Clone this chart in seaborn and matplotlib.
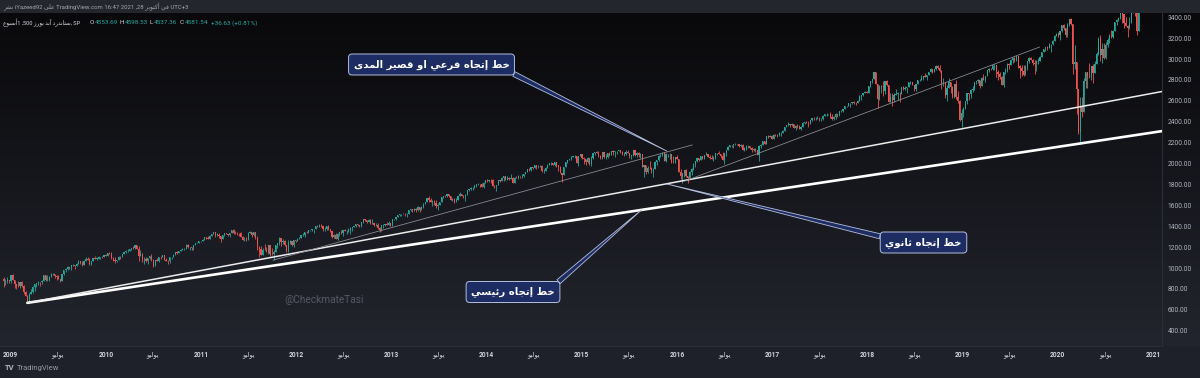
import numpy as np
import pandas as pd
import matplotlib
matplotlib.use('Agg')
import matplotlib.pyplot as plt
import matplotlib.colors as mcolors
import seaborn as sns

# weekly S&P 500 candles (friday closes), first week 2008-12-05
first_open = 896
close = [
    876, 879, 888, 873,  # 2008
    932, 890, 850, 832, 826, 869, 827, 770, 735, 683, 756, 769, 816, 843, 857, 870, 866, 877, 929, 882,
    887, 919, 940, 946, 921, 918, 896, 879, 940, 979, 987, 1010, 1005, 1026, 1029, 1016, 1042, 1068, 1044, 1025,
    1071, 1087, 1080, 1036, 1069, 1093, 1091, 1091, 1106, 1106, 1102, 1126,  # 2009
    1115, 1145, 1136, 1092, 1074, 1066, 1075, 1109, 1105, 1139, 1150, 1160, 1167, 1179, 1194, 1192, 1217, 1187,
    1111, 1136, 1088, 1089, 1065, 1092, 1117, 1076, 1023, 1078, 1065, 1103, 1102, 1122, 1079, 1071, 1065, 1105,
    1110, 1126, 1149, 1147, 1166, 1176, 1183, 1183, 1225, 1199, 1199, 1189, 1225, 1240, 1244, 1257, 1258,  # 2010
    1272, 1293, 1283, 1276, 1311, 1329, 1343, 1320, 1321, 1304, 1279, 1314, 1332, 1328, 1320, 1337, 1364, 1340,
    1338, 1333, 1331, 1300, 1271, 1271, 1268, 1339, 1344, 1316, 1345, 1292, 1199, 1179, 1124, 1177, 1174, 1154,
    1216, 1136, 1131, 1155, 1224, 1238, 1285, 1253, 1263, 1216, 1159, 1244, 1255, 1219, 1265, 1258,  # 2011
    1278, 1289, 1315, 1316, 1345, 1343, 1361, 1366, 1370, 1371, 1404, 1397, 1408, 1398, 1370, 1378, 1403, 1370,
    1353, 1295, 1318, 1278, 1325, 1343, 1335, 1362, 1355, 1357, 1362, 1386, 1391, 1405, 1418, 1411, 1407, 1438,
    1466, 1460, 1441, 1461, 1429, 1433, 1412, 1414, 1380, 1360, 1409, 1416, 1418, 1414, 1430, 1402,  # 2012
    1466, 1472, 1486, 1503, 1513, 1518, 1520, 1516, 1518, 1551, 1561, 1556, 1569, 1553, 1588, 1555, 1582, 1614,
    1634, 1667, 1650, 1631, 1643, 1627, 1593, 1606, 1632, 1680, 1692, 1691, 1709, 1691, 1655, 1664, 1633, 1655,
    1688, 1710, 1692, 1691, 1703, 1745, 1759, 1762, 1770, 1798, 1804, 1806, 1805, 1775, 1818, 1842,  # 2013
    1831, 1842, 1839, 1790, 1783, 1797, 1838, 1836, 1859, 1878, 1841, 1866, 1857, 1865, 1815, 1864, 1863, 1881,
    1878, 1878, 1900, 1924, 1950, 1937, 1963, 1961, 1985, 1968, 1978, 1978, 1925, 1932, 1955, 1988, 2003, 2008,
    1985, 2011, 1983, 1968, 1906, 1887, 1965, 2018, 2032, 2039, 2064, 2068, 2075, 2003, 2071, 2089,  # 2014
    2058, 2045, 2019, 2051, 1995, 2055, 2097, 2110, 2104, 2071, 2053, 2108, 2061, 2067, 2102, 2081, 2117, 2108,
    2116, 2123, 2126, 2107, 2092, 2094, 2110, 2102, 2077, 2077, 2127, 2080, 2104, 2078, 2092, 1971, 1989, 1921,
    1961, 1958, 1932, 1951, 2015, 2033, 2075, 2079, 2099, 2023, 2089, 2090, 2092, 2012, 2006, 2061,  # 2015
    2044, 1922, 1880, 1907, 1940, 1880, 1865, 1918, 1948, 2000, 2022, 2050, 2036, 2073, 2048, 2081, 2092, 2065,
    2057, 2047, 2052, 2099, 2099, 2096, 2071, 2037, 2103, 2130, 2162, 2175, 2174, 2183, 2184, 2184, 2169, 2180,
    2128, 2139, 2165, 2168, 2153, 2133, 2141, 2126, 2085, 2164, 2182, 2213, 2192, 2260, 2258, 2264, 2239,  # 2016
    2277, 2275, 2271, 2295, 2297, 2316, 2351, 2367, 2383, 2373, 2378, 2344, 2363, 2356, 2329, 2349, 2384, 2399,
    2391, 2382, 2416, 2439, 2432, 2433, 2438, 2423, 2425, 2459, 2472, 2472, 2477, 2441, 2426, 2443, 2476, 2461,
    2500, 2502, 2519, 2549, 2553, 2575, 2581, 2588, 2582, 2579, 2602, 2642, 2652, 2676, 2683, 2674,  # 2017
    2743, 2786, 2810, 2873, 2762, 2620, 2732, 2747, 2691, 2786, 2752, 2588, 2641, 2604, 2656, 2670, 2670, 2663,
    2728, 2713, 2721, 2735, 2779, 2780, 2755, 2718, 2760, 2801, 2802, 2819, 2840, 2833, 2850, 2875, 2902, 2872,
    2905, 2930, 2914, 2886, 2767, 2768, 2659, 2723, 2781, 2736, 2633, 2760, 2633, 2600, 2417, 2486,  # 2018
    2532, 2596, 2671, 2665, 2707, 2708, 2776, 2793, 2804, 2743, 2822, 2800, 2834, 2893, 2907, 2905, 2940, 2946,
    2881, 2860, 2826, 2752, 2873, 2887, 2950, 2942, 2990, 3014, 2977, 3026, 2932, 2919, 2889, 2847, 2926, 2979,
    3007, 2992, 2962, 2952, 2970, 2986, 3023, 3067, 3093, 3120, 3110, 3141, 3146, 3169, 3221, 3240,  # 2019
    3235, 3265, 3330, 3295, 3226, 3328, 3380, 3338, 2954, 2972, 2711, 2305, 2541, 2489, 2790, 2875, 2837, 2831,
    2930, 2864, 2955, 3044, 3194, 3041, 3098, 3009, 3130, 3185, 3225, 3216, 3271, 3351, 3373, 3397, 3508, 3427,
    3341, 3319, 3298, 3348, 3477, 3484, 3465, 3270, 3510, 3585, 3557, 3638, 3699, 3663, 3709, 3703,  # 2020
    3756, 3825, 3768, 3841, 3714,  # 2021
]
high = [
    919, 900, 918, 888,
    934, 943, 890, 852, 877, 870, 875, 835, 779, 742, 758, 804, 832, 845, 857, 875, 871, 888, 930, 918,
    930, 920, 951, 956, 947, 934, 931, 898, 943, 979, 996, 1018, 1012, 1027, 1039, 1028, 1048, 1080, 1071, 1063,
    1076, 1101, 1101, 1094, 1071, 1097, 1114, 1107, 1119, 1110, 1117, 1127,
    1130, 1145, 1150, 1150, 1103, 1104, 1080, 1112, 1113, 1139, 1153, 1170, 1181, 1182, 1195, 1213, 1218, 1220,
    1207, 1173, 1141, 1105, 1106, 1093, 1120, 1131, 1082, 1078, 1099, 1103, 1120, 1129, 1127, 1095, 1077, 1105,
    1110, 1131, 1149, 1160, 1167, 1181, 1190, 1196, 1227, 1227, 1205, 1200, 1225, 1241, 1247, 1259, 1262,
    1277, 1294, 1297, 1302, 1312, 1330, 1344, 1343, 1332, 1331, 1299, 1314, 1338, 1340, 1329, 1337, 1365, 1370,
    1359, 1346, 1334, 1345, 1305, 1293, 1299, 1341, 1356, 1343, 1347, 1346, 1307, 1208, 1208, 1190, 1230, 1204,
    1220, 1220, 1195, 1171, 1224, 1239, 1293, 1285, 1277, 1266, 1219, 1265, 1267, 1255, 1269, 1270,
    1285, 1296, 1316, 1333, 1346, 1355, 1362, 1368, 1378, 1372, 1405, 1414, 1419, 1422, 1391, 1392, 1406, 1415,
    1372, 1355, 1328, 1334, 1335, 1343, 1363, 1363, 1378, 1362, 1381, 1390, 1394, 1406, 1419, 1426, 1413, 1438,
    1474, 1467, 1460, 1470, 1465, 1465, 1434, 1434, 1429, 1389, 1410, 1420, 1423, 1439, 1448, 1431,
    1467, 1472, 1486, 1503, 1514, 1518, 1524, 1531, 1525, 1552, 1563, 1564, 1570, 1573, 1597, 1588, 1592, 1618,
    1635, 1667, 1688, 1674, 1648, 1648, 1654, 1620, 1632, 1680, 1693, 1698, 1709, 1709, 1694, 1669, 1670, 1671,
    1689, 1730, 1712, 1703, 1704, 1745, 1760, 1775, 1771, 1798, 1804, 1813, 1808, 1811, 1823, 1844,
    1849, 1843, 1850, 1850, 1798, 1798, 1841, 1847, 1867, 1883, 1878, 1883, 1875, 1897, 1872, 1869, 1884, 1891,
    1885, 1902, 1901, 1924, 1950, 1956, 1964, 1968, 1986, 1985, 1983, 1991, 1984, 1946, 1964, 1995, 2006, 2011,
    2007, 2019, 2011, 1988, 1977, 1906, 1966, 2018, 2034, 2041, 2071, 2076, 2079, 2075, 2077, 2094,
    2094, 2065, 2046, 2064, 2058, 2072, 2097, 2110, 2119, 2117, 2082, 2114, 2115, 2089, 2103, 2111, 2120, 2126,
    2117, 2123, 2134, 2132, 2117, 2115, 2126, 2130, 2102, 2083, 2128, 2128, 2110, 2113, 2102, 2096, 1989, 1989,
    1975, 2021, 1970, 1953, 2020, 2034, 2080, 2094, 2110, 2093, 2097, 2094, 2104, 2082, 2077, 2064,
    2082, 2038, 1950, 1908, 1940, 1947, 1881, 1930, 1962, 2010, 2023, 2052, 2056, 2075, 2075, 2084, 2111, 2096,
    2083, 2084, 2071, 2100, 2105, 2120, 2096, 2113, 2104, 2131, 2169, 2175, 2178, 2183, 2194, 2187, 2188, 2184,
    2188, 2158, 2176, 2175, 2169, 2163, 2148, 2152, 2131, 2182, 2189, 2214, 2214, 2260, 2278, 2274, 2273,
    2283, 2279, 2282, 2301, 2300, 2319, 2352, 2368, 2401, 2383, 2390, 2380, 2370, 2379, 2366, 2362, 2399, 2400,
    2404, 2406, 2418, 2440, 2446, 2449, 2454, 2450, 2432, 2463, 2477, 2484, 2478, 2490, 2474, 2454, 2480, 2474,
    2500, 2508, 2519, 2553, 2555, 2576, 2582, 2589, 2597, 2590, 2605, 2657, 2652, 2679, 2695, 2692,
    2743, 2787, 2811, 2873, 2871, 2763, 2754, 2748, 2789, 2787, 2802, 2742, 2675, 2672, 2680, 2717, 2684, 2682,
    2732, 2743, 2742, 2736, 2779, 2790, 2779, 2752, 2761, 2802, 2808, 2848, 2841, 2863, 2852, 2877, 2916, 2902,
    2909, 2941, 2940, 2940, 2891, 2817, 2772, 2756, 2815, 2781, 2746, 2760, 2800, 2694, 2607, 2520,
    2539, 2598, 2675, 2671, 2709, 2738, 2777, 2794, 2814, 2804, 2831, 2860, 2836, 2894, 2911, 2917, 2940, 2955,
    2933, 2892, 2873, 2836, 2876, 2911, 2964, 2958, 2996, 3017, 3018, 3028, 3029, 2944, 2943, 2939, 2940, 2985,
    3021, 3022, 3001, 2993, 2993, 3009, 3028, 3067, 3098, 3120, 3127, 3154, 3146, 3183, 3226, 3248,
    3259, 3267, 3330, 3338, 3294, 3347, 3385, 3393, 3336, 3137, 2882, 2553, 2637, 2641, 2819, 2880, 2871, 2965,
    2934, 2954, 2981, 3068, 3211, 3233, 3155, 3155, 3166, 3198, 3236, 3280, 3280, 3352, 3387, 3399, 3509, 3588,
    3425, 3402, 3323, 3398, 3486, 3549, 3502, 3464, 3529, 3646, 3628, 3645, 3706, 3712, 3726, 3712,
    3760, 3827, 3823, 3853, 3870,
]
low = [
    815, 837, 857, 857,
    858, 888, 805, 804, 822, 812, 816, 754, 730, 667, 672, 750, 766, 779, 814, 838, 826, 847, 878, 878,
    879, 880, 918, 936, 903, 888, 893, 869, 875, 934, 964, 985, 991, 978, 1016, 991, 1017, 1042, 1041, 1020,
    1025, 1070, 1074, 1033, 1029, 1070, 1086, 1073, 1091, 1086, 1095, 1102,
    1114, 1116, 1131, 1090, 1071, 1044, 1056, 1075, 1086, 1105, 1136, 1144, 1156, 1165, 1177, 1183, 1183, 1183,
    1065, 1122, 1055, 1041, 1060, 1043, 1087, 1067, 1011, 1022, 1063, 1056, 1088, 1106, 1076, 1069, 1040, 1047,
    1091, 1113, 1122, 1137, 1143, 1159, 1171, 1171, 1184, 1194, 1173, 1176, 1174, 1217, 1235, 1242, 1254,
    1257, 1265, 1275, 1275, 1276, 1307, 1324, 1294, 1302, 1291, 1249, 1280, 1307, 1322, 1309, 1295, 1331, 1329,
    1329, 1319, 1311, 1296, 1268, 1262, 1262, 1267, 1331, 1301, 1305, 1282, 1168, 1101, 1121, 1124, 1170, 1150,
    1137, 1114, 1127, 1074, 1156, 1191, 1221, 1215, 1226, 1209, 1158, 1158, 1231, 1209, 1203, 1248,
    1259, 1275, 1290, 1306, 1300, 1337, 1340, 1352, 1354, 1340, 1370, 1391, 1392, 1392, 1358, 1358, 1366, 1367,
    1343, 1292, 1291, 1277, 1267, 1306, 1324, 1309, 1352, 1326, 1346, 1329, 1354, 1390, 1397, 1398, 1397, 1396,
    1428, 1455, 1430, 1440, 1425, 1426, 1403, 1405, 1376, 1343, 1359, 1385, 1398, 1411, 1417, 1398,
    1402, 1456, 1461, 1485, 1495, 1495, 1514, 1497, 1485, 1514, 1547, 1538, 1546, 1539, 1548, 1536, 1555, 1577,
    1614, 1629, 1635, 1630, 1598, 1607, 1577, 1560, 1605, 1631, 1673, 1676, 1681, 1683, 1652, 1640, 1627, 1633,
    1656, 1685, 1687, 1671, 1646, 1700, 1741, 1746, 1746, 1765, 1777, 1799, 1779, 1772, 1767, 1818,
    1827, 1823, 1815, 1790, 1770, 1738, 1791, 1823, 1836, 1834, 1840, 1839, 1839, 1863, 1814, 1816, 1859, 1851,
    1859, 1862, 1871, 1900, 1917, 1931, 1925, 1944, 1959, 1952, 1955, 1965, 1916, 1905, 1928, 1956, 1989, 1991,
    1984, 1978, 1965, 1926, 1906, 1821, 1886, 1964, 2001, 2030, 2034, 2064, 2049, 2002, 1973, 2069,
    2046, 1992, 1988, 2005, 1989, 1981, 2041, 2085, 2099, 2067, 2039, 2047, 2055, 2045, 2058, 2073, 2080, 2085,
    2067, 2093, 2117, 2099, 2085, 2072, 2084, 2098, 2056, 2044, 2076, 2077, 2063, 2067, 2052, 1970, 1867, 1903,
    1910, 1952, 1908, 1872, 1950, 1990, 2023, 2059, 2076, 2022, 2019, 2067, 2042, 2008, 2001, 2005,
    2043, 1918, 1857, 1812, 1872, 1872, 1810, 1871, 1891, 1938, 1969, 2012, 2023, 2035, 2039, 2040, 2079, 2062,
    2039, 2046, 2025, 2047, 2085, 2094, 2051, 2033, 1992, 2075, 2131, 2159, 2156, 2148, 2175, 2173, 2160, 2158,
    2127, 2120, 2133, 2145, 2143, 2114, 2124, 2114, 2083, 2028, 2151, 2183, 2187, 2192, 2248, 2253, 2234,
    2233, 2263, 2259, 2263, 2268, 2289, 2314, 2352, 2358, 2354, 2357, 2336, 2322, 2345, 2328, 2322, 2374, 2378,
    2386, 2353, 2381, 2404, 2415, 2419, 2428, 2405, 2407, 2419, 2457, 2459, 2466, 2437, 2418, 2417, 2428, 2446,
    2459, 2496, 2489, 2520, 2542, 2547, 2544, 2567, 2566, 2557, 2580, 2597, 2605, 2647, 2674, 2673,
    2683, 2737, 2768, 2808, 2759, 2533, 2606, 2675, 2647, 2666, 2744, 2585, 2594, 2553, 2586, 2660, 2612, 2594,
    2661, 2707, 2707, 2676, 2734, 2766, 2749, 2699, 2699, 2768, 2789, 2804, 2795, 2826, 2802, 2855, 2881, 2864,
    2874, 2891, 2903, 2874, 2710, 2743, 2628, 2603, 2722, 2671, 2631, 2631, 2621, 2583, 2409, 2347,
    2444, 2525, 2574, 2612, 2631, 2681, 2703, 2764, 2775, 2722, 2743, 2796, 2785, 2839, 2881, 2896, 2898, 2900,
    2825, 2801, 2805, 2750, 2728, 2858, 2878, 2909, 2952, 2966, 2972, 2979, 2914, 2822, 2840, 2834, 2853, 2891,
    2964, 2990, 2946, 2856, 2884, 2952, 2985, 3023, 3067, 3079, 3091, 3113, 3070, 3134, 3183, 3224,
    3213, 3181, 3260, 3280, 3214, 3214, 3315, 3328, 2855, 2902, 2478, 2280, 2192, 2448, 2500, 2719, 2727, 2816,
    2798, 2767, 2910, 2969, 3038, 2984, 2966, 3004, 3000, 3115, 3153, 3200, 3204, 3286, 3328, 3363, 3387, 3349,
    3294, 3317, 3209, 3292, 3361, 3441, 3415, 3233, 3280, 3511, 3543, 3581, 3594, 3645, 3659, 3636,
    3633, 3663, 3750, 3790, 3694,
]

# trend lines drawn on the chart: (dates, prices)
main_line = (['2009-03-06', '2021-02-05'], [667, 2311])
second_line = (['2009-03-06', '2021-02-05'], [667, 2690])
sub_line_1 = (['2011-10-04', '2016-02-29'], [1075, 2178])
sub_line_2 = (['2016-02-01', '2019-10-24'], [1833, 3116])

# callout tips (date, price)
sub_tip = ('2015-11-23', 2120)
second_tip = ('2015-11-23', 1805)
main_tip = ('2015-08-19', 1558)

price_ticks = list(range(400, 3401, 200))
year_ticks = list(range(2009, 2022))
july_years = list(range(2009, 2021))
july_label = 'يوليو'

sub_text = 'خط إتجاه فرعي او قصير المدى'
second_text = 'خط إتجاه ثانوي'
main_text = 'خط إتجاه رئيسي'
watermark = '@CheckmateTasi'


# matplotlib has no arabic shaping, so pick presentation forms and flip to rtl
DUAL = dict(zip('ئبتثجحخسشصضطظعغفقكلمنهي',
                [0xFE89, 0xFE8F, 0xFE95, 0xFE99, 0xFE9D, 0xFEA1, 0xFEA5, 0xFEB1,
                 0xFEB5, 0xFEB9, 0xFEBD, 0xFEC1, 0xFEC5, 0xFEC9, 0xFECD, 0xFED1,
                 0xFED5, 0xFED9, 0xFEDD, 0xFEE1, 0xFEE5, 0xFEE9, 0xFEF1]))
RIGHT = dict(zip('آأإاةدذرزوى',
                 [0xFE81, 0xFE83, 0xFE87, 0xFE8D, 0xFE93, 0xFEA9, 0xFEAB,
                  0xFEAD, 0xFEAF, 0xFEED, 0xFEEF]))


def shape(text):
    out = []
    for i, c in enumerate(text):
        base = DUAL.get(c, RIGHT.get(c))
        if base is None:
            out.append(c)
            continue
        prev = text[i - 1] if i > 0 else ''
        nxt = text[i + 1] if i + 1 < len(text) else ''
        jp = prev in DUAL
        jn = c in DUAL and (nxt in DUAL or nxt in RIGHT)
        out.append(chr(base + (3 if jp and jn else 1 if jp else 2 if jn else 0)))
    return ''.join(out)[::-1]


sns.set_theme(style='dark', rc={'axes.facecolor': 'none', 'figure.facecolor': '#1f212a'})
plt.rcParams['font.family'] = ['Roboto', 'DejaVu Sans']

W, H = 1200, 378
fig = plt.figure(figsize=(12, 3.78), dpi=100)

# background: dark tradingview gradient
bg = fig.add_axes([0, 0, 1, 1], zorder=0)
rows = np.zeros((H, 1, 3))
c_top = np.array(mcolors.to_rgb('#09090b'))
c_bot = np.array(mcolors.to_rgb('#23252e'))
t = np.clip((np.arange(H) - 13) / (346 - 13), 0, 1)[:, None]
rows[:, 0, :] = c_top + (c_bot - c_top) * t
rows[:13, 0, :] = mcolors.to_rgb('#24262d')
rows[346:, 0, :] = mcolors.to_rgb('#1f212a')
bg.imshow(rows, aspect='auto', extent=(0, 1, 0, 1))
bg.axis('off')

ax = fig.add_axes([0, (H - 346) / H, 1162 / W, 333 / H], zorder=1)
ax.patch.set_alpha(0)

dates = pd.date_range('2008-12-05', periods=len(close), freq='W-FRI')
c = np.array(close, dtype=float)
o = np.r_[first_open, c[:-1]]
hi = np.maximum(np.array(high, dtype=float), np.maximum(o, c))
lo = np.minimum(np.array(low, dtype=float), np.minimum(o, c))
up = c >= o
colors = np.where(up, '#26a69a', '#ef5350')

ax.vlines(dates, lo, hi, colors=colors, linewidth=0.6, zorder=2)
body = np.maximum(np.abs(c - o), 2)
ax.bar(dates, body, bottom=np.minimum(o, c), width=4.5, color=colors, linewidth=0, zorder=2)

for (d, p), col, lw in [(main_line, '#ffffff', 1.9), (second_line, '#ececec', 1.1),
                        (sub_line_1, '#8e9097', 0.55), (sub_line_2, '#8e9097', 0.55)]:
    df = pd.DataFrame({'date': pd.to_datetime(d), 'price': p})
    sns.lineplot(data=df, x='date', y='price', ax=ax, color=col, linewidth=lw, zorder=3)

ax.set_xlim(pd.Timestamp('2008-11-21'), pd.Timestamp('2021-02-04'))
ax.set_ylim(254, 3441)
ax.set_xlabel('')
ax.set_ylabel('')
ax.grid(False)

ax.yaxis.tick_right()
ax.set_yticks(price_ticks)
ax.set_yticklabels([f'{v:.2f}' for v in price_ticks])
ax.tick_params(axis='y', length=0, pad=4, labelsize=4.8, labelcolor='#b2b5be')

xt = [pd.Timestamp(f'{y}-01-01') for y in year_ticks] + [pd.Timestamp(f'{y}-07-01') for y in july_years]
xl = [str(y) for y in year_ticks] + [shape(july_label)] * len(july_years)
ax.set_xticks(xt)
ax.set_xticklabels(xl)
ax.tick_params(axis='x', length=0, pad=3.5, labelsize=4.8, labelcolor='#d1d4dc')
for lbl in ax.get_xticklabels()[:len(year_ticks)]:
    lbl.set_fontweight('bold')

for side in ['top', 'left']:
    ax.spines[side].set_visible(False)
for side in ['right', 'bottom']:
    ax.spines[side].set_color('#2a2e39')
    ax.spines[side].set_linewidth(0.8)

# callouts
navy = '#1d2c62'
edge = '#b4bddc'


def callout(text, tip, center, relpos):
    ax.annotate(shape(text), xy=(pd.Timestamp(tip[0]), tip[1]), xycoords='data',
                xytext=center, textcoords='axes fraction', ha='center', va='center',
                fontsize=7.3, fontweight='bold', color='white', family=['DejaVu Sans'],
                bbox=dict(boxstyle='round,pad=0.5,rounding_size=0.35', fc=navy, ec=edge, lw=0.7),
                arrowprops=dict(arrowstyle='wedge,tail_width=0.5', fc=navy, ec=edge, lw=0.6,
                                shrinkA=0, shrinkB=0, relpos=relpos),
                annotation_clip=False, zorder=5)


callout(sub_text, sub_tip, (431.5 / 1162, (346 - 64.5) / 333), (0.96, 0.12))
callout(second_text, second_tip, (923.5 / 1162, (346 - 242.5) / 333), (0.04, 0.88))
callout(main_text, main_tip, (513 / 1162, (346 - 292) / 333), (0.96, 0.88))

# watermark, header and footer texts
fig.text(324 / W, 1 - 300 / H, watermark, ha='center', va='center', fontsize=7.3, color='#555966')

hdr1 = (shape('نشر') + ' iYazeed92 ' + shape('على') + ' TradingView.com 16:47 2021 ,28 '
        + shape('في أكتوبر') + ' UTC+3')
fig.text(3 / W, 1 - 7 / H, hdr1, ha='left', va='center', fontsize=4.3, color='#a3a6af')

hdr2 = shape('أسبوع') + '1 ,500 ' + shape('ستاندرد آند بورز') + ', SP'
fig.text(3 / W, 1 - 23 / H, hdr2, ha='left', va='center', fontsize=4.1, color='#d1d4dc')
green = '#26a69a'
for x0, s, col in [(90, 'O', '#d1d4dc'), (95, '4553.69', green), (120, 'H', '#d1d4dc'),
                   (125, '4598.53', green), (150, 'L', '#d1d4dc'), (154, '4537.36', green),
                   (180, 'C', '#d1d4dc'), (185, '4581.54', green), (211, '+36.63 (+0.81%)', green)]:
    fig.text(x0 / W, 1 - 23 / H, s, ha='left', va='center', fontsize=4.6, color=col)

fig.text(5 / W, 1 - 368 / H, 'TV', ha='left', va='center', fontsize=5.5, fontweight='bold', color='#b2b5be')
fig.text(17 / W, 1 - 368 / H, 'TradingView', ha='left', va='center', fontsize=5.5, color='#9598a1')

fig.savefig('out.png', dpi=100, facecolor=fig.get_facecolor())
